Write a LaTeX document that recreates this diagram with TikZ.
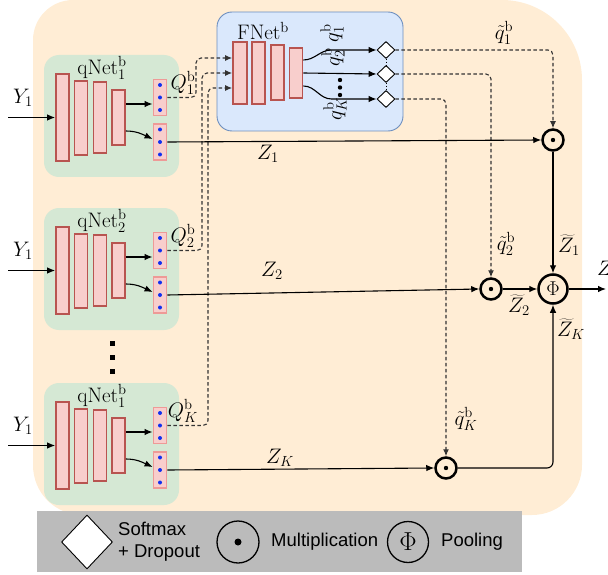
\RequirePackage{fix-cm}
\documentclass[tikz,border=0pt]{standalone}
\usepackage{fontspec}
\newfontfamily\legendfont{Liberation Sans}
\usetikzlibrary{arrows.meta,shapes.geometric,calc}
\definecolor{bgorange}{HTML}{FFEDD5}
\definecolor{greenbg}{HTML}{D5E8D4}
\definecolor{bluebg}{HTML}{DAE8FC}
\definecolor{blueline}{HTML}{6C8EBF}
\definecolor{barfill}{HTML}{F8CECC}
\definecolor{barred}{HTML}{B85450}
\definecolor{vecborder}{HTML}{EE9A97}
\definecolor{dotblue}{HTML}{1030F0}
\definecolor{legendgray}{HTML}{BBBBBB}
\tikzset{
  every node/.style={font=\fontsize{21}{24}\selectfont},
  gbox/.style={fill=greenbg, draw=none, rounded corners=15pt, inner sep=0pt},
  fnetbox/.style={fill=bluebg, draw=blueline, line width=0.9pt, rounded corners=15pt, inner sep=0pt},
  bar/.style={draw=barred, fill=barfill, line width=1.7pt, minimum width=13pt, inner sep=0pt},
  vec/.style={draw=vecborder, fill=barfill, line width=1.9pt, minimum width=13pt, minimum height=36pt, inner sep=0pt,
    path picture={
      \fill[dotblue] (path picture bounding box.center) circle (2pt);
      \fill[dotblue] ([yshift=12.5pt]path picture bounding box.center) circle (2pt);
      \fill[dotblue] ([yshift=-12.5pt]path picture bounding box.center) circle (2pt);}},
  arr/.style={-{Latex[length=8pt,width=6.5pt]}, line width=1.1pt},
  dq/.style={dash pattern=on 3.5pt off 2.5pt, line width=1.1pt, draw=black!80, rounded corners=5pt},
  dqarr/.style={dq, -{Latex[length=7pt,width=6pt]}},
  softmax/.style={diamond, draw, fill=white, line width=0.9pt, minimum width=18pt, minimum height=17pt, inner sep=0pt},
  mult/.style={circle, draw, line width=2.5pt, minimum size=21pt, inner sep=0pt,
    path picture={\fill (path picture bounding box.center) circle (2.2pt);}},
  pool/.style={circle, draw, line width=2.5pt, minimum size=29pt, inner sep=0pt, font=\fontsize{20}{20}\selectfont},
  legtext/.style={font=\legendfont\fontsize{18.5}{22}\selectfont, inner sep=0pt, anchor=west, align=left},
}
\newcommand{\qnetblock}[4]{%
\begin{scope}[shift={(0,#2)}]
  \node[gbox, minimum width=135pt, minimum height=122pt] (g#1) at (111.5,61) {};
  \node (ql#1) at (102,13) {qNet$^{\mathrm b}_{#3}$};
  \node[bar, minimum height=87pt] (b#1a) at (62.5,62.5) {};
  \node[bar, minimum height=74pt] (b#1b) at (81,63) {};
  \node[bar, minimum height=71pt] (b#1c) at (100,62.5) {};
  \node[bar, minimum height=55pt] (b#1d) at (118.5,62.5) {};
  \node[vec] (v#1t) at (160,42.5) {};
  \node[vec] (v#1b) at (160,87) {};
  \draw[arr] ([yshift=13.5pt]b#1d.east) -- ([yshift=13.5pt]b#1d.east -| v#1t.west);
  \draw[arr] ([yshift=-13.5pt]b#1d.east) to[out=0,in=155] ([yshift=3pt]v#1b.west);
  \coordinate (yin#1) at (8,62.5);
  \draw[arr] (yin#1) -- (b#1a.west);
  \node (y#1) at (23,43) {$Y_1$};
  \node (Q#1) at (183,28) {$Q^{\mathrm b}_{#4}$};
\end{scope}}
\begin{document}
\begin{tikzpicture}[x=1pt,y=-1pt]
\useasboundingbox (0,0) rectangle (608,575);
% background
\fill[bgorange] (33,40) .. controls (33,18) and (51,0) .. (73,0) -- (502,0)
  .. controls (546,0) and (582,36) .. (582,80) -- (582,465)
  .. controls (582,492) and (560,515) .. (532,515) -- (83,515)
  .. controls (55,515) and (33,493) .. (33,465) -- cycle;
% legend
\node[fill=legendgray, minimum width=485pt, minimum height=61pt, inner sep=0pt] (leg) at (279.5,541.5) {};
\node[diamond, draw, fill=white, line width=0.9pt, minimum width=51pt, minimum height=54pt, inner sep=0pt] (ld) at (87,542) {};
\node[legtext] (lt1) at (118,542) {Softmax\\+ Dropout};
\node[circle, draw, line width=1.3pt, minimum size=42pt, inner sep=0pt,
  path picture={\fill (path picture bounding box.center) circle (3.5pt);}] (lm) at (238,542) {};
\node[legtext] (lt2) at (271,542) {Multiplication};
\node[circle, draw, line width=1.3pt, minimum size=41pt, inner sep=0pt, font=\fontsize{26}{26}\selectfont] (lp) at (408,542) {$\Phi$};
\node[legtext] (lt3) at (441,542) {Pooling};
% qNets
\qnetblock{1}{55}{1}{1}
\qnetblock{2}{208}{2}{2}
\qnetblock{3}{383}{1}{K}
% vertical dots
\fill (110,341) rectangle (114.5,345.5);
\fill (110,355) rectangle (114.5,359.5);
\fill (110,369) rectangle (114.5,373.5);
% FNet
\node[fnetbox, minimum width=186pt, minimum height=119pt] (fbox) at (310,71.5) {};
\node (fl) at (263,31) {FNet$^{\mathrm b}$};
\node[bar, minimum width=14pt, minimum height=62pt] (fb1) at (240,73) {};
\node[bar, minimum height=62pt] (fb2) at (258.5,73) {};
\node[bar, minimum height=55pt] (fb3) at (277.5,72.5) {};
\node[bar, minimum height=50pt] (fb4) at (296,73) {};
\node[softmax] (d1) at (386,50) {};
\node[softmax] (d2) at (386,74) {};
\node[softmax] (d3) at (386,99) {};
\draw[dotted, line width=0.8pt] (d1.south) -- (d2.north) (d2.south) -- (d3.north);
\draw[arr] ([yshift=13pt]fb4.east) to[out=0,in=180] ([xshift=-45pt]d1.west) -- (d1.west);
\draw[arr] (fb4.east) -- (d2.west);
\draw[arr] ([yshift=-13pt]fb4.east) to[out=0,in=180] ([xshift=-45pt]d3.west) -- (d3.west);
\node[rotate=90] (lq1) at (332,33) {$q^{\mathrm b}_1$};
\node[rotate=90] (lq2) at (333,57) {$q^{\mathrm b}_2$};
\node[rotate=90] (lqk) at (335,109) {$q^{\mathrm b}_K$};
\fill (340,80) circle (2.2pt) (340,87.5) circle (2.2pt) (340,95) circle (2.2pt);
% Q dashed into FNet
\draw[dqarr] (v1t.east) -| (196,58) -- ([yshift=15pt]fb1.west);
\draw[dqarr] (v2t.east) -| (202,73) -- (fb1.west);
\draw[dqarr] (v3t.east) -| (208,88) -- ([yshift=-15pt]fb1.west);
% multiplications and pooling
\node[mult] (m1) at (553,140) {};
\node[mult] (m2) at (491,289) {};
\node[mult] (mK) at (446,468) {};
\node[pool] (P) at (553,289) {$\Phi$};
\draw[dqarr] (d1.east) -| (m1.north);
\draw[dqarr] (d2.east) -| (m2.north);
\draw[dqarr] (d3.east) -| (mK.north);
\node (tq1) at (504,33) {$\tilde q^{\mathrm b}_1$};
\node (tq2) at (506,244) {$\tilde q^{\mathrm b}_2$};
\node (tqk) at (466,419) {$\tilde q^{\mathrm b}_K$};
% Z lines
\draw[arr] (v1b.east) -- (m1.west);
\draw[arr] (v2b.east) -- (m2.west);
\draw[arr] (v3b.east) -- (mK.west);
\node (z1) at (268,154) {$Z_1$};
\node (z2) at (272,271) {$Z_2$};
\node (zk) at (280,458) {$Z_K$};
\draw[arr] (m1.south) -- (P.north);
\draw[arr] (m2.east) -- (P.west);
\draw[arr, rounded corners=6pt] (mK.east) -| (P.south);
\node (tz1) at (569,245) {$\widetilde Z_1$};
\node (tz2) at (519,305) {$\widetilde Z_2$};
\node (tzk) at (571,329) {$\widetilde Z_K$};
\coordinate (zout) at (606,289);
\draw[arr] (P.east) -- (zout);
\node[anchor=west, inner sep=0pt] (zlab) at (597,268) {$Z$};
\end{tikzpicture}
\end{document}
